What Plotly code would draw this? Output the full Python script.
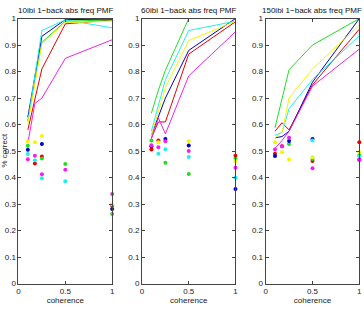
import plotly.graph_objects as go

coherence = [0.1, 0.175, 0.25, 0.5, 1.0]
series_names = ["red", "green", "blue", "cyan", "magenta", "yellow"]
series_colors = ["#e60000", "#22dd22", "#0000cc", "#22eeee", "#ee22ee", "#f5f500"]
titles = ["10ibi 1\u2212back abs freq PMF", "60ibi 1\u2212back abs freq PMF", "150ibi 1\u2212back abs freq PMF"]

# Panel 1 (10ibi)
p1_lines_red = [0.58, 0.70, 0.81, 0.98, 0.995]
p1_lines_green = [0.615, 0.77, 0.91, 0.99, 0.995]
p1_lines_blue = [0.628, 0.78, 0.933, 0.996, 0.998]
p1_lines_cyan = [0.61, 0.79, 0.955, 0.995, 0.965]
p1_lines_magenta = [0.53, 0.68, 0.70, 0.85, 0.92]
p1_lines_yellow = [0.60, 0.76, 0.905, 0.985, 0.99]
p1_dots_red = [None, 0.453, 0.48, None, 0.295]
p1_dots_green = [0.52, None, 0.472, 0.451, 0.263]
p1_dots_blue = [0.505, None, 0.527, None, 0.282]
p1_dots_cyan = [0.489, 0.466, 0.398, 0.386, None]
p1_dots_magenta = [0.469, 0.483, 0.413, 0.43, 0.338]
p1_dots_yellow = [0.537, 0.533, 0.557, None, 0.30]

# Panel 2 (60ibi)
p2_lines_red = [0.55, 0.61, 0.61, 0.866, 0.988]
p2_lines_green = [0.643, 0.73, 0.805, 1.0, 1.0]
p2_lines_blue = [0.56, 0.63, 0.70, 0.88, 1.0]
p2_lines_cyan = [0.575, 0.67, 0.77, 0.955, 0.99]
p2_lines_magenta = [0.545, 0.625, 0.565, 0.784, 0.95]
p2_lines_yellow = [0.56, 0.65, 0.74, 0.917, 0.99]
p2_dots_red = [0.506, 0.54, None, None, 0.483]
p2_dots_green = [0.54, None, 0.456, 0.414, 0.472]
p2_dots_blue = [0.518, None, 0.546, 0.521, 0.357]
p2_dots_cyan = [None, 0.49, 0.507, 0.478, 0.40]
p2_dots_magenta = [0.522, 0.515, 0.537, 0.50, 0.437]
p2_dots_yellow = [None, 0.533, None, 0.537, 0.463]

# Panel 3 (150ibi)
p3_lines_red = [0.575, 0.607, 0.58, 0.75, 0.96]
p3_lines_green = [0.588, 0.70, 0.807, 0.90, 1.0]
p3_lines_blue = [0.55, 0.555, 0.575, 0.76, 1.0]
p3_lines_cyan = [0.56, 0.57, 0.66, 0.77, 0.935]
p3_lines_magenta = [0.51, 0.54, 0.575, 0.745, 0.885]
p3_lines_yellow = [0.55, 0.57, 0.70, 0.81, 0.975]
p3_dots_red = [0.49, 0.518, None, 0.463, 0.533]
p3_dots_green = [None, None, 0.527, 0.47, 0.485]
p3_dots_blue = [0.482, None, 0.538, 0.546, 0.467]
p3_dots_cyan = [None, None, None, 0.54, 0.48]
p3_dots_magenta = [0.506, 0.518, 0.55, 0.435, 0.467]
p3_dots_yellow = [0.533, 0.496, 0.468, 0.477, 0.496]

y_ticks = [0, 0.1, 0.2, 0.3, 0.4, 0.5, 0.6, 0.7, 0.8, 0.9, 1]
y_tick_labels = ["0", "0.1", "0.2", "0.3", "0.4", "0.5", "0.6", "0.7", "0.8", "0.9", "1"]
x_ticks = [0, 0.5, 1]
x_tick_labels = ["0", "0.5", "1"]

panels = [
    ([p1_lines_red, p1_lines_green, p1_lines_blue, p1_lines_cyan, p1_lines_magenta, p1_lines_yellow],
     [p1_dots_red, p1_dots_green, p1_dots_blue, p1_dots_cyan, p1_dots_magenta, p1_dots_yellow]),
    ([p2_lines_red, p2_lines_green, p2_lines_blue, p2_lines_cyan, p2_lines_magenta, p2_lines_yellow],
     [p2_dots_red, p2_dots_green, p2_dots_blue, p2_dots_cyan, p2_dots_magenta, p2_dots_yellow]),
    ([p3_lines_red, p3_lines_green, p3_lines_blue, p3_lines_cyan, p3_lines_magenta, p3_lines_yellow],
     [p3_dots_red, p3_dots_green, p3_dots_blue, p3_dots_cyan, p3_dots_magenta, p3_dots_yellow]),
]

W, H = 364, 311
x_domains = [[16.7 / W, 111.7 / W], [142.0 / W, 236.7 / W], [267.3 / W, 362.3 / W]]
y_domain = [1 - 288.0 / H, 1 - 15.0 / H]

fig = go.Figure()
FONT = "Liberation Sans, Arial, sans-serif"

for i, (lines, dots) in enumerate(panels):
    xa = "x" if i == 0 else f"x{i+1}"
    ya = "y" if i == 0 else f"y{i+1}"
    for name, col, vals in zip(series_names, series_colors, lines):
        fig.add_trace(go.Scatter(x=coherence, y=vals, mode="lines", name=name,
                                 line=dict(color=col, width=1), xaxis=xa, yaxis=ya,
                                 showlegend=False))
    for name, col, vals in zip(series_names, series_colors, dots):
        fig.add_trace(go.Scatter(x=coherence, y=vals, mode="markers", name=name,
                                 marker=dict(color=col, size=4, symbol="circle"),
                                 xaxis=xa, yaxis=ya, showlegend=False, cliponaxis=False))
    axis_common = dict(showline=True, linecolor="#444", linewidth=1, mirror="ticks",
                       ticks="inside", ticklen=3, tickcolor="#444", showgrid=False,
                       zeroline=False, tickfont=dict(size=8, color="#222", family=FONT))
    xkey = "xaxis" if i == 0 else f"xaxis{i+1}"
    ykey = "yaxis" if i == 0 else f"yaxis{i+1}"
    fig.update_layout(**{
        xkey: dict(domain=x_domains[i], range=[0, 1], tickvals=x_ticks, ticktext=x_tick_labels,
                   anchor=ya, title=dict(text="coherence", font=dict(size=8, color="#222", family=FONT), standoff=2),
                   **axis_common),
        ykey: dict(domain=y_domain, range=[0, 1], tickvals=y_ticks, ticktext=y_tick_labels,
                   anchor=xa, **axis_common),
    })
    fig.add_annotation(text=titles[i], x=(x_domains[i][0] + x_domains[i][1]) / 2, y=1 - 7.0 / H,
                       xref="paper", yref="paper", showarrow=False, xanchor="center", yanchor="middle",
                       font=dict(size=8, color="#111", family=FONT))

fig.add_annotation(text="% correct", x=3.0 / W, y=1 - 150.0 / H, xref="paper", yref="paper",
                   showarrow=False, textangle=-90, xanchor="center", yanchor="middle",
                   font=dict(size=8, color="#222", family=FONT))

fig.update_layout(width=W, height=H, margin=dict(l=0, r=0, t=0, b=0),
                  paper_bgcolor="white", plot_bgcolor="white")

fig.write_html("out.html")
